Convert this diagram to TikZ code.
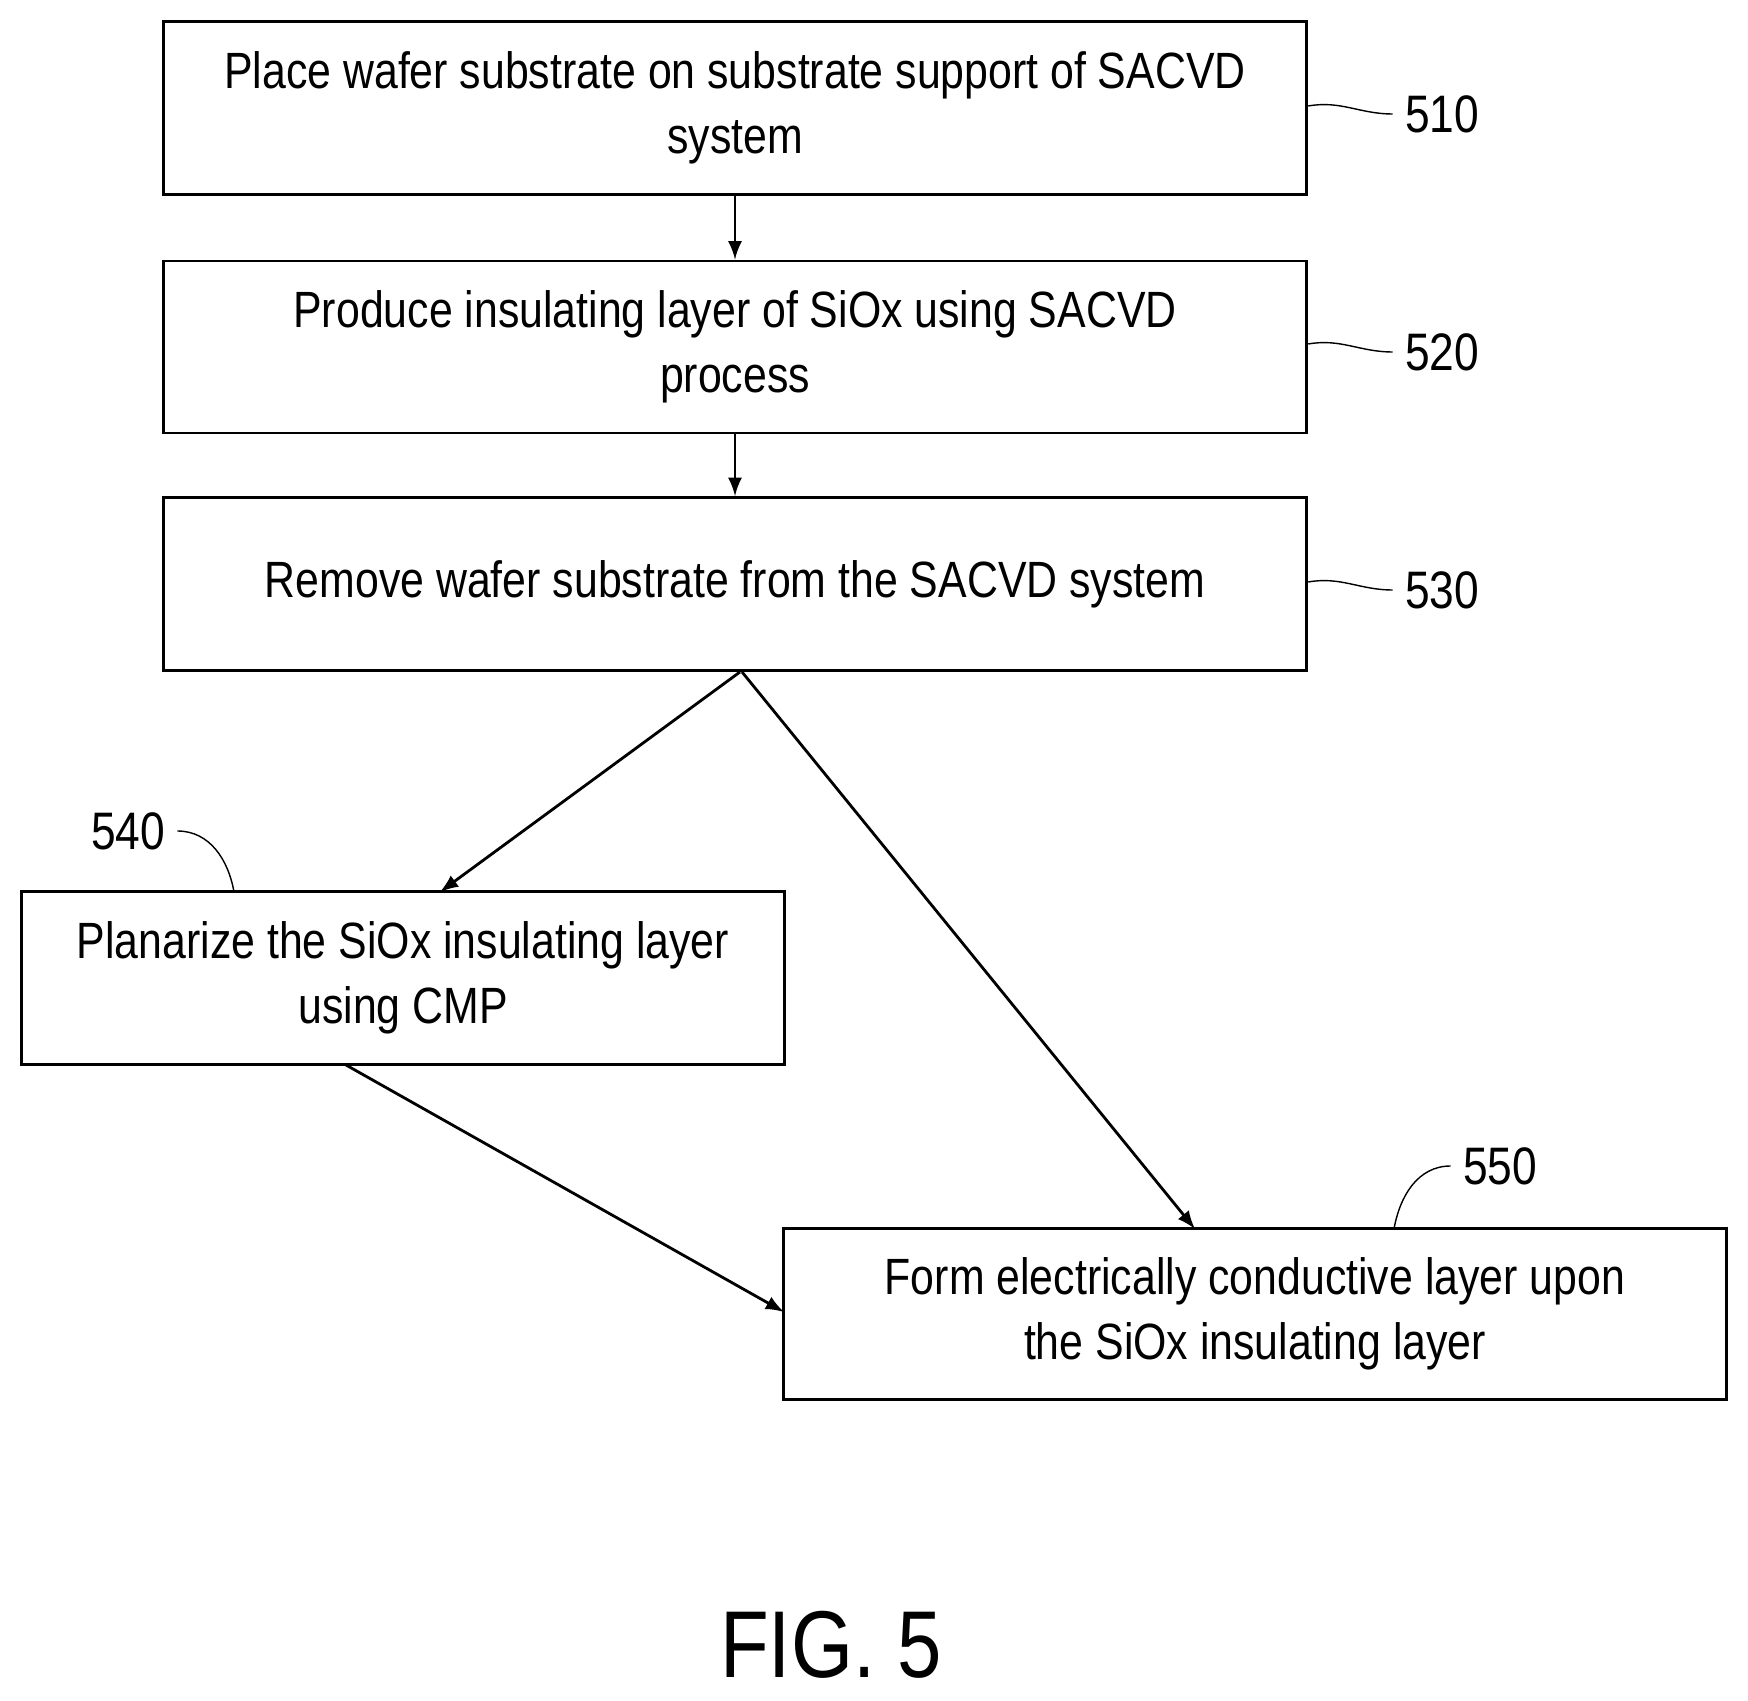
\documentclass[tikz,border=0pt]{standalone}
\usepackage{fontspec}
\setmainfont[FakeStretch=0.84]{Liberation Sans}
\usetikzlibrary{arrows, positioning}
\begin{document}
\begin{tikzpicture}[x=0.01cm, y=-0.01cm,
        block/.style={rectangle, draw, thick, align=center, inner sep=0pt, font=\fontsize{14.5}{18.5}\selectfont},
        line/.style={draw, -latex, thick},
        lead/.style={draw, thin},
        num/.style={font=\fontsize{15}{18}\selectfont}]

        \useasboundingbox (0,0) rectangle (1748,1701);

        % Nodes
        \node [block, minimum height=1.73cm, minimum width=11.43cm] (place) at (735,108) {Place wafer substrate on substrate support of SACVD\\system};
        \node [block, minimum width=11.43cm, minimum height=1.72cm] (produce) at (735,347) {Produce insulating layer of SiOx using SACVD\\process};
        \node [block, minimum width=11.43cm, minimum height=1.73cm] (remove) at (735,584) {Remove wafer substrate from the SACVD system};
        \node [block, minimum width=7.62cm, minimum height=1.73cm] (planarize) at (403,978) {Planarize the SiOx insulating layer\\using CMP};
        \node [block, minimum width=9.42cm, minimum height=1.71cm] (form) at (1255,1314) {Form electrically conductive layer upon\\the SiOx insulating layer};

        \node [num] (n510) at (1442,114) {510};
        \node [num] (n520) at (1442,352) {520};
        \node [num] (n530) at (1442,590) {530};
        \node [num] (n540) at (128,831) {540};
        \node [num] (n550) at (1500,1166) {550};
        \node [font=\fontsize{27}{32}\selectfont] (fig) at (831,1645) {FIG. 5};

        % Edges
        \path [line] (place) -- (produce);
        \path [line] (produce) -- (remove);
        \path [line] ([xshift=0.05cm]remove.south) -- (440,892);
        \path [line] ([xshift=0.07cm]remove.south) -- (1195,1229);
        \path [line] (346,1065) -- (784,1312);

        % Leaders
        \path [lead] (place.east |- 0,106) to[out=10, in=180] (n510.west);
        \path [lead] (produce.east |- 0,344) to[out=10, in=180] (n520.west);
        \path [lead] (remove.east |- 0,582) to[out=10, in=180] (n530.west);
        \path [lead] (234,892) to[out=100, in=0] (n540.east);
        \path [lead] (1394,1229) to[out=80, in=180] (n550.west);

    \end{tikzpicture}
\end{document}
